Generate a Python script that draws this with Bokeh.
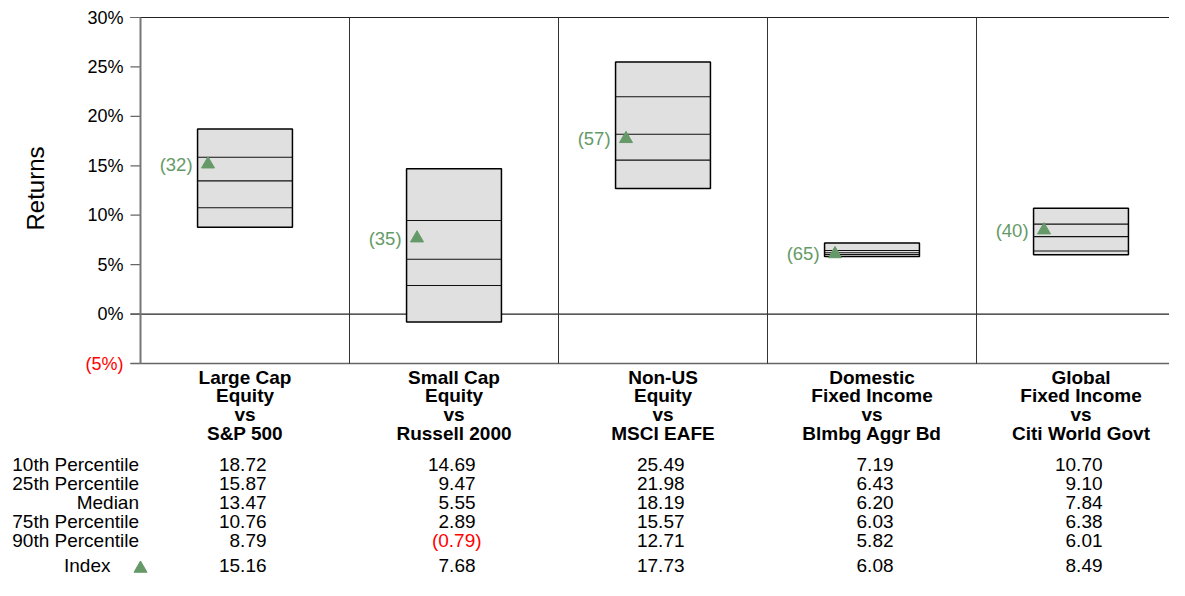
import numpy as np
from bokeh.plotting import figure
from bokeh.models import ColumnDataSource, Range1d
from bokeh.core.properties import value
from bokeh.embed import file_html
from bokeh.resources import INLINE

categories = ["Large Cap\nEquity\nvs\nS&P 500",
              "Small Cap\nEquity\nvs\nRussell 2000",
              "Non-US\nEquity\nvs\nMSCI EAFE",
              "Domestic\nFixed Income\nvs\nBlmbg Aggr Bd",
              "Global\nFixed Income\nvs\nCiti World Govt"]
p10 = [18.72, 14.69, 25.49, 7.19, 10.70]
p25 = [15.87, 9.47, 21.98, 6.43, 9.10]
median = [13.47, 5.55, 18.19, 6.20, 7.84]
p75 = [10.76, 2.89, 15.57, 6.03, 6.38]
p90 = [8.79, -0.79, 12.71, 5.82, 6.01]
index_vals = [15.16, 7.68, 17.73, 6.08, 8.49]
ranks = [32, 35, 57, 65, 40]
row_labels = ["10th Percentile", "25th Percentile", "Median", "75th Percentile", "90th Percentile"]
y_ticks = [30, 25, 20, 15, 10, 5, 0, -5]

FONT = value("Liberation Sans")
GREEN = "#659a68"
RED = "#ff0000"

def fmt(v):
    return f"{v:.2f}" if v >= 0 else f"({-v:.2f})"

def fmt_pct(v):
    return f"{v}%" if v >= 0 else f"({-v}%)"

n = len(categories)
centers = np.arange(n) + 0.5
BOX_HW = 0.227
TICK_LEN = 0.048

# vertical layout helper: pixel row (from top) -> data value
Y_TOP, PX_PER = 31.72, 9.886
def ypix(px):
    return Y_TOP - px / PX_PER

X0 = -140 / 209
p = figure(width=1169, height=580,
           x_range=Range1d(X0, X0 + 1169 / 209), y_range=Range1d(ypix(580), Y_TOP),
           x_axis_type=None, y_axis_type=None,
           output_backend="svg", toolbar_location=None, min_border=0)
p.outline_line_color = None
p.background_fill_color = "white"
p.border_fill_color = "white"

XR = n + 0.2
# frame lines
p.segment(x0=[-TICK_LEN] * 2, y0=[30, 0], x1=[XR] * 2, y1=[30, 0], line_color="#222222", line_width=1.2)
p.segment(x0=[-TICK_LEN], y0=[-5], x1=[XR], y1=[-5], line_color="#666666", line_width=1.6)
# ticks
p.segment(x0=[-TICK_LEN] * len(y_ticks), y0=y_ticks, x1=[0] * len(y_ticks), y1=y_ticks,
          line_color="#666666", line_width=1.2)
# left axis
p.segment(x0=[0], y0=[-5], x1=[0], y1=[30], line_color="#777777", line_width=2)
# column dividers
divs = list(range(1, n))
p.segment(x0=divs, y0=[-5] * len(divs), x1=divs, y1=[30] * len(divs), line_color="#333333", line_width=1)

# tick labels
tick_src = ColumnDataSource(dict(x=[0] * len(y_ticks), y=y_ticks,
                                 t=[fmt_pct(v) for v in y_ticks],
                                 c=["black" if v >= 0 else RED for v in y_ticks]))
p.text(x="x", y="y", text="t", source=tick_src, text_color="c", text_font=FONT,
       text_font_size="18px", text_align="right", text_baseline="middle", x_offset=-17)

p.text(x=[-0.502], y=[ypix(188)], text=["Returns"], angle=np.pi / 2, text_font=FONT,
       text_font_size="24px", text_align="center", text_baseline="middle", text_color="black")

# boxes
p.quad(left=centers - BOX_HW, right=centers + BOX_HW, top=p10, bottom=p90,
       fill_color="#e0e0e0", line_color="black", line_width=1.5)
for arr in (p25, median, p75):
    p.segment(x0=centers - BOX_HW, y0=arr, x1=centers + BOX_HW, y1=arr, line_color="#111111", line_width=1.1)

# index markers and ranks
p.scatter(x=centers - 0.177, y=index_vals, marker="triangle", size=13, color=GREEN)
p.text(x=centers - 0.251, y=index_vals, text=[f"({r})" for r in ranks], text_color=GREEN,
       text_font=FONT, text_font_size="18.5px", text_align="right", text_baseline="middle")

# category labels
p.text(x=centers, y=[ypix(366)] * n, text=categories, text_font=FONT, text_font_size="19px",
       text_font_style="bold", text_align="center", text_baseline="top", text_line_height=0.9,
       text_color="black")

# table
row_y = [ypix(px) for px in (464, 483, 502, 521, 540)]
index_y = ypix(565)
p.text(x=[0] * len(row_labels), y=row_y, text=row_labels, text_font=FONT, text_font_size="19px",
       text_align="right", text_baseline="middle", x_offset=-1.5, text_color="black")
p.text(x=[0], y=[index_y], text=["Index"], text_font=FONT, text_font_size="19px",
       text_align="right", text_baseline="middle", x_offset=-30, text_color="black")
p.scatter(x=[0], y=[ypix(568)], marker="triangle", size=13, color=GREEN)

xs, ys, ts, cs, offs = [], [], [], [], []
for r, arr in enumerate([p10, p25, median, p75, p90]):
    for i, v in enumerate(arr):
        xs.append(centers[i] + 0.103)
        ys.append(row_y[r])
        ts.append(fmt(v))
        cs.append("black" if v >= 0 else RED)
        offs.append(0 if v >= 0 else 6)
for i, v in enumerate(index_vals):
    xs.append(centers[i] + 0.103)
    ys.append(index_y)
    ts.append(fmt(v))
    cs.append("black" if v >= 0 else RED)
    offs.append(0 if v >= 0 else 6)
tab_src = ColumnDataSource(dict(x=xs, y=ys, t=ts, c=cs, o=offs))
p.text(x="x", y="y", text="t", source=tab_src, text_color="c", x_offset="o", text_font=FONT,
       text_font_size="19px", text_align="right", text_baseline="middle")

open("out.html", "w").write(file_html(p, INLINE))
